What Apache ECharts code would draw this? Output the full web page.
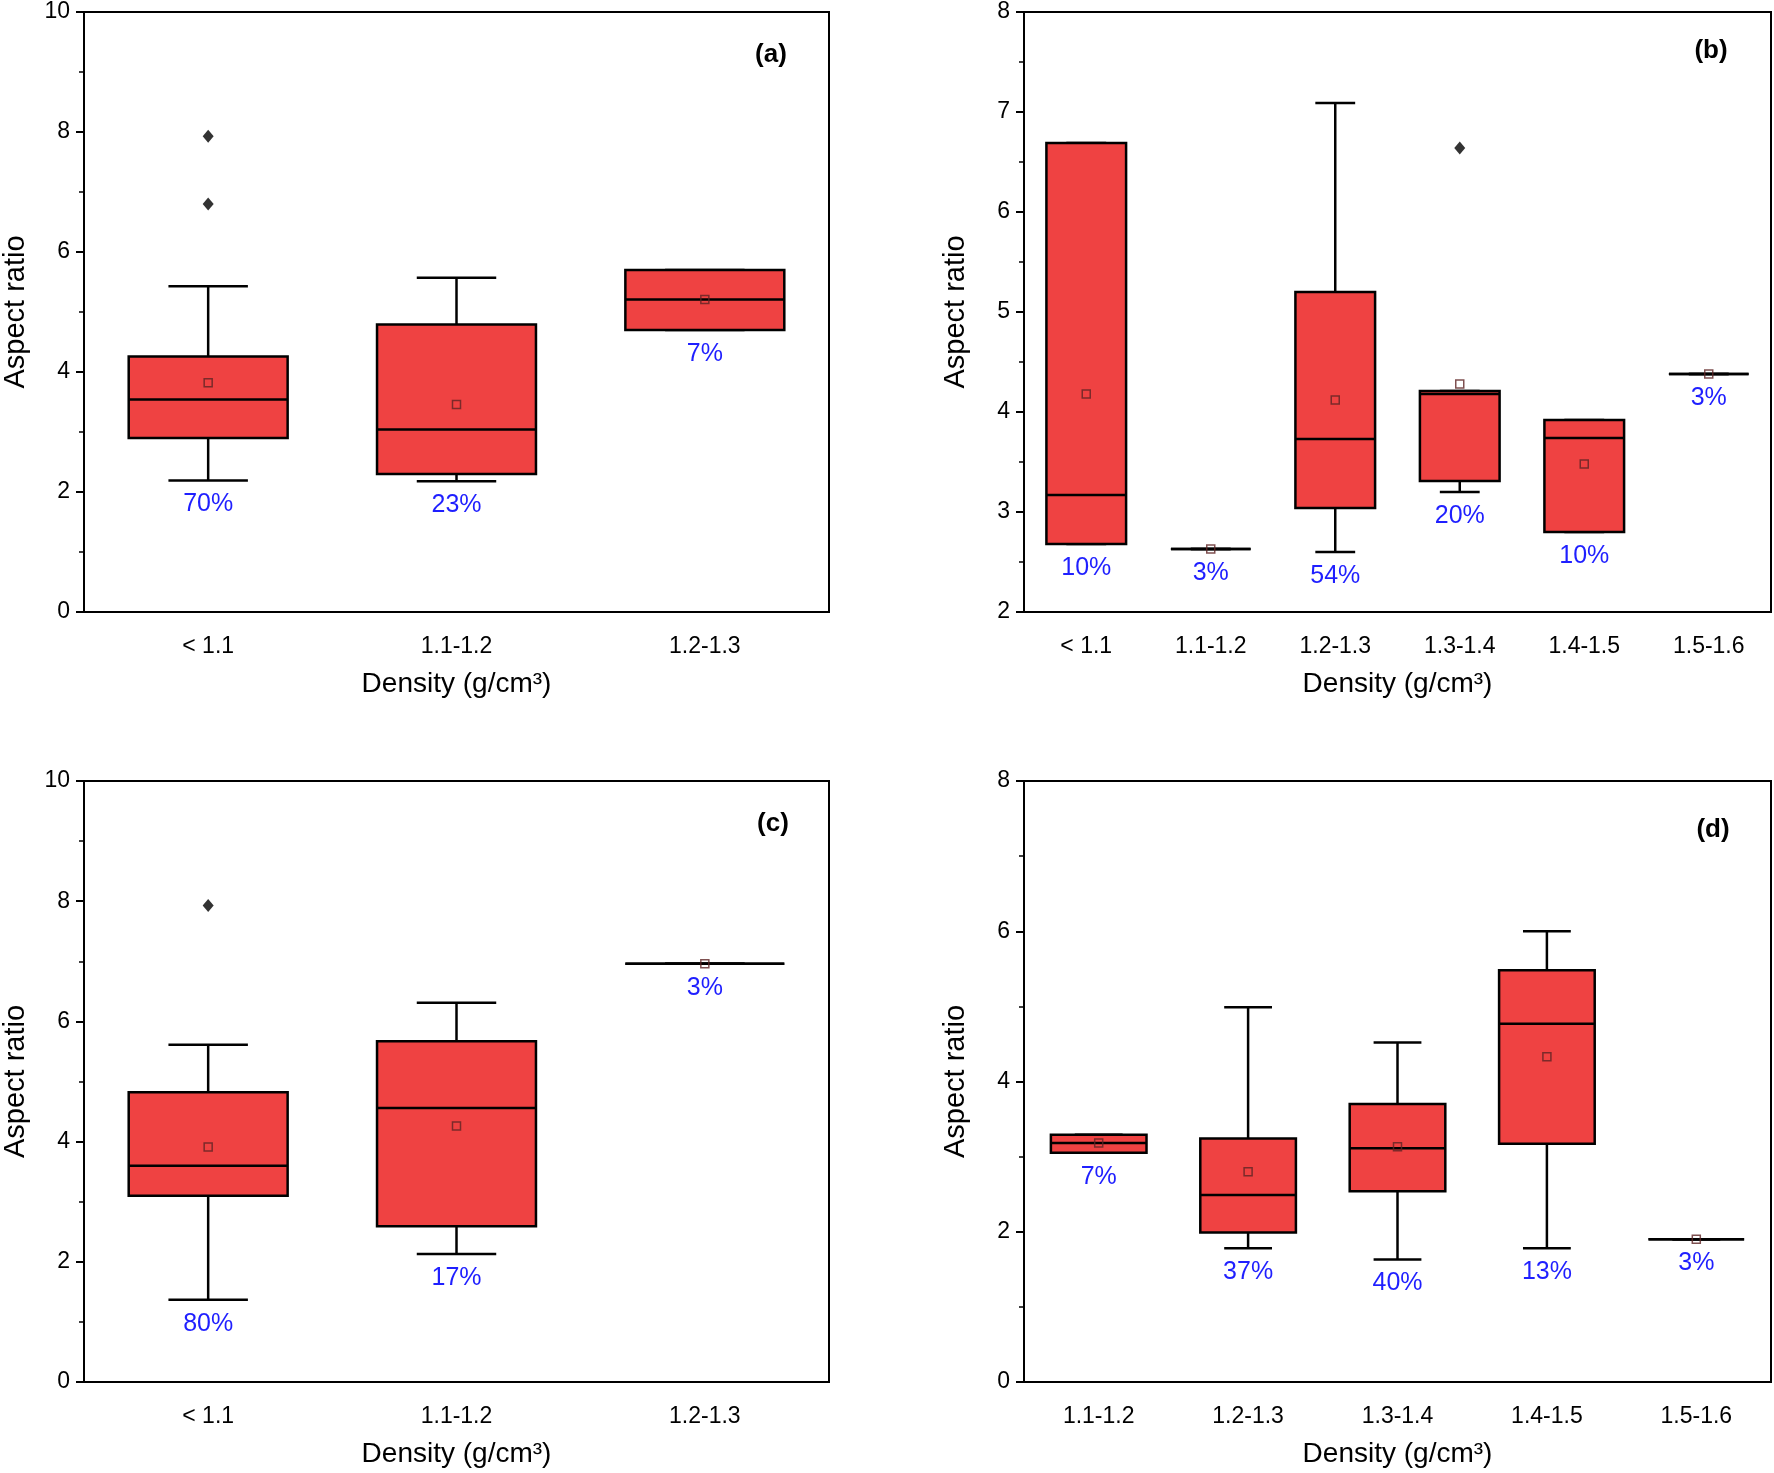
<!DOCTYPE html>
<html>
<head>
<meta charset="utf-8">
<script src="https://cdn.jsdelivr.net/npm/echarts@6/dist/echarts.min.js"></script>
<style>
html,body{margin:0;padding:0;background:#fff;}
#chart{width:1774px;height:1473px;}
</style>
</head>
<body>
<div id="chart"></div>
<script>
// ---- Panel (a) ----
const catsA = ['< 1.1', '1.1-1.2', '1.2-1.3'];
// [low whisker, Q1, median, Q3, high whisker]
const boxA = [[2.19, 2.90, 3.54, 4.26, 5.43], [2.18, 2.30, 3.04, 4.79, 5.57], [4.70, 4.70, 5.21, 5.70, 5.70]];
const meanA = [3.82, 3.46, 5.21];
const outA = [[0, 7.93], [0, 6.80]];
const pctA = ['70%', '23%', '7%'];

// ---- Panel (b) ----
const catsB = ['< 1.1', '1.1-1.2', '1.2-1.3', '1.3-1.4', '1.4-1.5', '1.5-1.6'];
const boxB = [[2.68, 2.68, 3.17, 6.69, 6.69], [2.63, 2.63, 2.63, 2.63, 2.63], [2.60, 3.04, 3.73, 5.20, 7.09],
              [3.20, 3.31, 4.18, 4.21, 4.21], [2.80, 2.80, 3.74, 3.92, 3.92], [4.38, 4.38, 4.38, 4.38, 4.38]];
const meanB = [4.18, 2.63, 4.12, 4.28, 3.48, 4.38];
const outB = [[3, 6.64]];
const pctB = ['10%', '3%', '54%', '20%', '10%', '3%'];

// ---- Panel (c) ----
const catsC = ['< 1.1', '1.1-1.2', '1.2-1.3'];
const boxC = [[1.37, 3.10, 3.60, 4.82, 5.61], [2.13, 2.59, 4.56, 5.67, 6.31], [6.96, 6.96, 6.96, 6.96, 6.96]];
const meanC = [3.91, 4.26, 6.96];
const outC = [[0, 7.93]];
const pctC = ['80%', '17%', '3%'];

// ---- Panel (d) ----
const catsD = ['1.1-1.2', '1.2-1.3', '1.3-1.4', '1.4-1.5', '1.5-1.6'];
const boxD = [[3.05, 3.05, 3.18, 3.29, 3.29], [1.78, 1.99, 2.49, 3.24, 4.99], [1.63, 2.54, 3.11, 3.70, 4.52],
              [1.78, 3.17, 4.77, 5.48, 6.00], [1.90, 1.90, 1.90, 1.90, 1.90]];
const meanD = [3.18, 2.80, 3.13, 4.33, 1.90];
const outD = [];
const pctD = ['7%', '37%', '40%', '13%', '3%'];

const panelLetters = ['(a)', '(b)', '(c)', '(d)'];

const FONT = 'Liberation Sans, Arial, sans-serif';

const grids = [
  {left: 83, top: 12, width: 746, height: 600},
  {left: 1024, top: 12, width: 747, height: 600},
  {left: 83, top: 781, width: 746, height: 601},
  {left: 1024, top: 781, width: 747, height: 601}
];
const letterPos = [[771, 55], [1711, 51], [773, 824], [1713, 830]];

const panels = [
  {cats: catsA, box: boxA, mean: meanA, out: outA, pct: pctA, min: 0, max: 10, interval: 2},
  {cats: catsB, box: boxB, mean: meanB, out: outB, pct: pctB, min: 2, max: 8, interval: 1},
  {cats: catsC, box: boxC, mean: meanC, out: outC, pct: pctC, min: 0, max: 10, interval: 2},
  {cats: catsD, box: boxD, mean: meanD, out: outD, pct: pctD, min: 0, max: 8, interval: 2}
];

const option = {
  animation: false,
  backgroundColor: '#fff',
  grid: [], xAxis: [], yAxis: [], series: [], graphic: []
};

panels.forEach((p, i) => {
  option.grid.push(Object.assign({show: true, borderColor: '#000', borderWidth: 2, backgroundColor: 'transparent'}, grids[i]));
  option.xAxis.push({
    type: 'category', gridIndex: i, data: p.cats, boundaryGap: true,
    name: 'Density (g/cm³)', nameLocation: 'middle', nameGap: 58,
    nameTextStyle: {fontFamily: FONT, fontSize: 28, color: '#000'},
    axisLine: {lineStyle: {color: '#000', width: 2}},
    axisTick: {alignWithLabel: true, length: 8, lineStyle: {color: '#000', width: 2}},
    axisLabel: {fontFamily: FONT, fontSize: 23, color: '#000', margin: 23},
    splitLine: {show: false}
  });
  option.yAxis.push({
    type: 'value', gridIndex: i, min: p.min, max: p.max, interval: p.interval,
    name: 'Aspect ratio', nameLocation: 'middle', nameGap: 54, nameRotate: 90,
    nameTextStyle: {fontFamily: FONT, fontSize: 29, color: '#000'},
    axisLine: {show: true, lineStyle: {color: '#000', width: 2}},
    axisTick: {show: true, length: 8, lineStyle: {color: '#000', width: 2}},
    minorTick: {show: true, splitNumber: 2, length: 5, lineStyle: {color: '#000', width: 1.5}},
    axisLabel: {fontFamily: FONT, fontSize: 23, color: '#000', margin: 14},
    splitLine: {show: false}
  });
  const pct = p.pct;
  option.series.push({
    type: 'custom', xAxisIndex: i, yAxisIndex: i, z: 2,
    data: p.box.map((b, k) => [k].concat(b)),
    renderItem: function (params, api) {
      const x = api.value(0);
      const lo = api.coord([x, api.value(1)]);
      const q1 = api.coord([x, api.value(2)]);
      const md = api.coord([x, api.value(3)]);
      const q3 = api.coord([x, api.value(4)]);
      const hi = api.coord([x, api.value(5)]);
      const bw = api.size([1, 0])[0] * 0.64;
      const cw = bw * 0.5;
      const cx = lo[0];
      const ls = {stroke: '#000', lineWidth: 2.5, fill: null};
      return {
        type: 'group',
        children: [
          {type: 'line', shape: {x1: cx, y1: hi[1], x2: cx, y2: q3[1]}, style: ls},
          {type: 'line', shape: {x1: cx, y1: q1[1], x2: cx, y2: lo[1]}, style: ls},
          {type: 'line', shape: {x1: cx - cw / 2, y1: hi[1], x2: cx + cw / 2, y2: hi[1]}, style: ls},
          {type: 'line', shape: {x1: cx - cw / 2, y1: lo[1], x2: cx + cw / 2, y2: lo[1]}, style: ls},
          {type: 'rect', shape: {x: cx - bw / 2, y: q3[1], width: bw, height: q1[1] - q3[1]},
           style: {fill: '#ef4242', stroke: '#000', lineWidth: 2.5}},
          {type: 'line', shape: {x1: cx - bw / 2, y1: md[1], x2: cx + bw / 2, y2: md[1]}, style: ls},
          {type: 'text', x: cx, y: lo[1] + 24,
           style: {text: pct[params.dataIndex], fill: '#1f1fff', fontSize: 25, fontFamily: FONT,
                   align: 'center', verticalAlign: 'middle'}}
        ]
      };
    }
  });
  option.series.push({
    type: 'scatter', xAxisIndex: i, yAxisIndex: i, z: 3,
    data: p.mean.map((m, k) => [k, m]),
    symbol: 'rect', symbolSize: 8,
    itemStyle: {color: 'rgba(255,255,255,0)', borderColor: '#5e2424', borderWidth: 1.5}
  });
  option.series.push({
    type: 'scatter', xAxisIndex: i, yAxisIndex: i, z: 3,
    data: p.out,
    symbol: 'diamond', symbolSize: [11, 13],
    itemStyle: {color: '#000'}
  });
  option.graphic.push({
    type: 'text', x: letterPos[i][0], y: letterPos[i][1], z: 10,
    style: {text: panelLetters[i], fill: '#000', fontSize: 26, fontWeight: 'bold', fontFamily: FONT,
            align: 'center', verticalAlign: 'middle'}
  });
});

const chart = echarts.init(document.getElementById('chart'), null, {renderer: 'canvas'});
chart.setOption(option);
</script>
</body>
</html>
